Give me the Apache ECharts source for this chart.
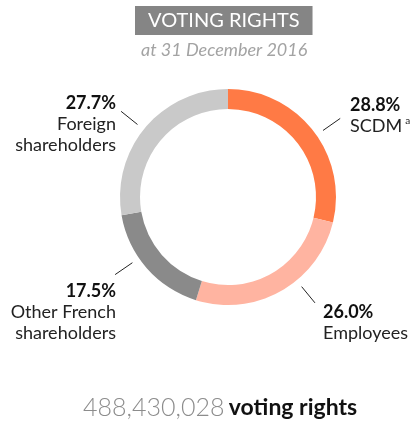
<!DOCTYPE html>
<html>
<head>
<meta charset="utf-8">
<script src="https://cdn.jsdelivr.net/npm/echarts@6/dist/echarts.min.js"></script>
<style>
  html, body { margin: 0; padding: 0; background: #fff; }
  #chart { width: 413px; height: 424px; }
</style>
</head>
<body>
<div id="chart"></div>
<script>
// data
const names = ['SCDM', 'Employees', 'Other French\nshareholders', 'Foreign\nshareholders'];
const notes = ['a', '', '', ''];
const shares = [28.8, 26.0, 17.5, 27.7];
const totalRights = '488,430,028';

const colors = ['#ff7a45', '#ffb4a1', '#8a8a8a', '#c9c9c9'];
const cx = 228, cy = 197;
// leader line angle (deg, screen coords) and label anchor per slice
const lineAngles = [-35, 50.6, 145.5, 218.7];
const labelPos = [
  { x: 350, y: 95, align: 'left' },
  { x: 323, y: 302, align: 'left' },
  { x: 116, y: 281, align: 'right' },
  { x: 116, y: 93, align: 'right' }
];

const font = 'Lato, "Noto Sans", sans-serif';
const chart = echarts.init(document.getElementById('chart'));

chart.setOption({
  animation: false,
  title: [
    {
      text: 'VOTING RIGHTS',
      left: 135,
      top: 6,
      backgroundColor: '#858585',
      padding: [5, 13, 4, 13],
      textStyle: { color: '#fff', fontSize: 20, fontWeight: 'normal', fontFamily: font }
    },
    {
      text: 'at 31 December 2016',
      left: 141,
      top: 41,
      padding: 0,
      textStyle: { color: '#a3a3a3', fontSize: 18, fontStyle: 'italic', fontWeight: 'normal', fontFamily: font }
    },
    {
      text: '{n|' + totalRights + '} {b|voting rights}',
      left: 83,
      top: 395,
      padding: 0,
      textStyle: {
        fontFamily: font,
        rich: {
          n: { fontSize: 25, color: '#8c8c8c', fontWeight: 300, fontFamily: font },
          b: { fontSize: 23, color: '#111', fontWeight: 'bold', fontFamily: font }
        }
      }
    }
  ],
  series: [{
    type: 'pie',
    center: [cx, cy],
    radius: [88, 108],
    startAngle: 90,
    clockwise: true,
    silent: true,
    data: shares.map((v, i) => ({
      value: v,
      name: names[i],
      itemStyle: { color: colors[i] }
    })),
    label: {
      show: true,
      position: 'outside',
      overflow: 'none',
      width: 200,
      fontFamily: font,
      formatter: p => {
        const i = p.dataIndex;
        const nm = names[i].split('\n').map(s => '{t|' + s + '}').join('\n');
        return '{p|' + shares[i].toFixed(1) + '%}\n' + nm + (notes[i] ? '{s|' + notes[i] + '}' : '');
      },
      rich: {
        p: { fontSize: 18, fontWeight: 'bold', color: '#111', lineHeight: 21, fontFamily: font },
        t: { fontSize: 18, color: '#222', lineHeight: 21, fontFamily: font },
        s: { fontSize: 10, color: '#222', verticalAlign: 'top', padding: [0, 0, 8, 3], fontFamily: font }
      }
    },
    labelLine: { show: true, lineStyle: { color: '#222', width: 1 } },
    labelLayout: p => {
      const i = p.dataIndex;
      const a = lineAngles[i] * Math.PI / 180;
      return {
        x: labelPos[i].x,
        y: labelPos[i].y,
        align: labelPos[i].align,
        verticalAlign: 'top',
        hideOverlap: false,
        labelLinePoints: [
          [cx + 116 * Math.cos(a), cy + 116 * Math.sin(a)],
          [cx + 137 * Math.cos(a), cy + 137 * Math.sin(a)]
        ]
      };
    }
  }]
});
</script>
</body>
</html>
